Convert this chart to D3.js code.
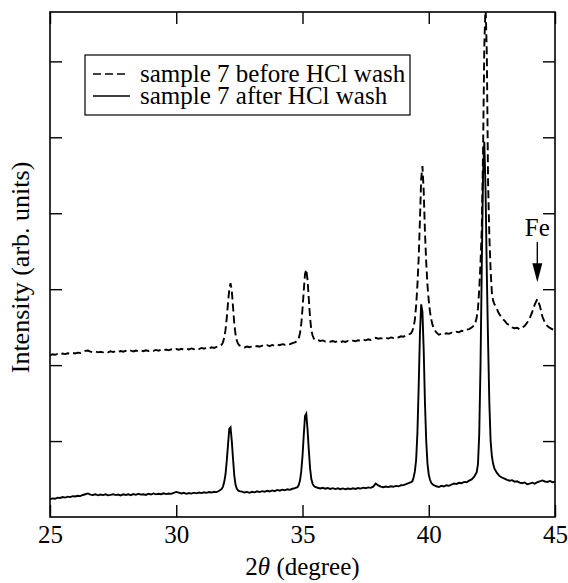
<!DOCTYPE html>
<html>
<head>
<meta charset="utf-8">
<script src="https://cdn.jsdelivr.net/npm/d3@7"></script>
<style>
body { margin: 0; background: #fff; }
svg text { font-family: "Liberation Serif", "Times New Roman", Times, "DejaVu Serif", serif; fill: #000; }
</style>
</head>
<body>
<div id="chart"></div>
<script>
// 2theta sampling positions (finer around the peaks)
var twoTheta = [
  25.0,25.1,25.2,25.3,25.4,25.5,25.6,25.7,25.8,25.9,26.0,26.1,26.2,26.3,26.4,26.5,26.6,26.7,26.8,26.9,
  27.0,27.1,27.2,27.3,27.4,27.5,27.6,27.7,27.8,27.9,28.0,28.1,28.2,28.3,28.4,28.5,28.6,28.7,28.8,28.9,
  29.0,29.1,29.2,29.3,29.4,29.5,29.6,29.7,29.8,29.9,30.0,30.1,30.2,30.3,30.4,30.5,30.6,30.7,30.8,30.9,
  31.0,31.1,31.2,31.3,31.4,31.5,31.6,31.7,31.8,
  31.85,31.9,31.95,32.0,32.05,32.1,32.15,32.2,32.25,32.3,32.35,32.4,32.45,32.5,
  32.6,32.7,32.8,32.9,33.0,33.1,33.2,33.3,33.4,33.5,33.6,33.7,33.8,33.9,34.0,34.1,34.2,34.3,34.4,34.5,34.6,34.7,34.8,
  34.85,34.9,34.95,35.0,35.05,35.1,35.15,35.2,35.25,35.3,35.35,35.4,35.45,35.5,
  35.6,35.7,35.8,35.9,36.0,36.1,36.2,36.3,36.4,36.5,36.6,36.7,36.8,36.9,37.0,37.1,37.2,37.3,37.4,37.5,
  37.6,37.7,37.8,37.9,38.0,38.1,38.2,38.3,38.4,38.5,38.6,38.7,38.8,38.9,39.0,39.1,39.2,39.3,
  39.35,39.4,39.45,39.5,39.55,39.6,39.65,39.7,39.75,39.8,39.85,39.9,39.95,40.0,40.05,40.1,40.15,40.2,
  40.3,40.4,40.5,40.6,40.7,40.8,40.9,41.0,41.1,41.2,41.3,41.4,41.5,41.6,41.7,41.8,
  41.85,41.9,41.95,42.0,42.05,42.1,42.15,42.2,42.25,42.3,42.35,42.4,42.45,42.5,42.55,42.6,42.65,42.7,42.75,42.8,
  42.9,43.0,43.1,43.2,43.3,43.4,43.5,43.6,43.7,43.8,43.9,44.0,44.1,44.2,44.3,44.4,44.5,44.6,44.7,44.8,44.9,45.0
];

// sample 7 after HCl wash (solid)
var afterWash = [
  235,245,240,255,250,262,255,268,262,275,270,280,275,290,300,310,295,290,300,285,
  295,288,298,285,292,300,288,296,284,298,290,300,288,302,292,305,295,300,290,306,
  296,310,298,305,300,312,302,310,305,318,330,320,310,318,305,315,308,320,312,322,
  315,325,318,328,322,332,328,345,370,
  400,460,560,740,950,1160,1180,1000,760,540,420,370,350,340,
  335,322,330,318,332,325,338,328,340,332,345,336,350,340,356,346,360,352,366,358,372,380,392,
  420,480,600,800,1080,1330,1360,1150,880,640,500,440,410,395,
  385,375,385,372,382,370,380,368,378,366,376,365,375,368,378,370,382,374,386,378,
  390,384,400,440,415,400,392,402,394,405,398,410,404,418,420,432,445,460,
  470,520,600,750,1100,1700,2400,2800,2700,2200,1500,1000,700,560,490,450,430,420,
  405,395,410,402,418,410,428,440,435,450,445,462,458,478,495,530,
  560,590,700,1100,2000,3300,4500,4940,4300,3200,2300,1500,1000,800,700,640,610,580,560,540,
  520,505,490,478,485,465,470,452,445,455,432,440,452,438,458,470,482,468,462,475,458,462
];

// sample 7 before HCl wash (dashed)
var beforeWash = [
  2130,2142,2136,2148,2140,2152,2145,2156,2150,2160,2154,2164,2160,2172,2188,2192,2178,2170,2180,2168,
  2176,2168,2180,2170,2182,2172,2184,2174,2186,2176,2188,2178,2190,2180,2192,2182,2194,2184,2196,2186,
  2198,2188,2200,2190,2202,2192,2205,2195,2208,2198,2212,2202,2214,2204,2216,2206,2220,2210,2222,2212,
  2226,2216,2230,2220,2234,2226,2240,2248,2270,
  2300,2360,2460,2620,2820,3000,3080,2980,2760,2540,2400,2320,2280,2260,
  2245,2232,2245,2235,2248,2238,2252,2242,2256,2246,2262,2250,2266,2255,2270,2262,2276,2268,2282,2275,2290,2300,2320,
  2350,2420,2540,2740,2980,3200,3260,3120,2870,2620,2460,2390,2350,2330,
  2330,2318,2325,2312,2320,2308,2318,2305,2315,2302,2314,2305,2318,2310,2322,2314,2328,2320,2334,2326,
  2340,2332,2346,2360,2348,2355,2345,2360,2350,2365,2358,2372,2365,2380,2375,2392,2400,2420,
  2450,2500,2600,2780,3050,3400,3900,4450,4620,4300,3750,3350,3050,2850,2700,2600,2530,2480,
  2430,2400,2415,2405,2420,2412,2428,2422,2440,2432,2452,2446,2466,2475,2495,2525,
  2560,2630,2750,3000,3350,3800,4800,6200,6750,6100,4400,3700,3250,2950,2850,2800,2780,2740,2700,2670,
  2620,2585,2545,2525,2498,2485,2492,2472,2490,2518,2560,2620,2700,2800,2870,2780,2640,2560,2515,2490,2472,2462
];

var xTicks = [25, 30, 35, 40, 45];
var yTicks = [1000, 2000, 3000, 4000, 5000, 6000];
var seriesNames = ["sample 7 before HCl wash", "sample 7 after HCl wash"];
var fePeak = 44.3;

var serif = '"Liberation Serif", "Times New Roman", Times, "DejaVu Serif", serif';

var margin = { top: 12, right: 13, bottom: 66, left: 50 },
    width = 568 - margin.left - margin.right,
    height = 583 - margin.top - margin.bottom;

var svg = d3.select("#chart")
    .append("svg")
    .attr("width", 568)
    .attr("height", 583)
    .attr("font-family", serif)
  .append("g")
    .attr("transform", "translate(" + margin.left + "," + margin.top + ")");

var x = d3.scaleLinear().domain([25, 45]).range([0, width]);
var y = d3.scaleLinear().domain([0, 6650]).range([height, 0]);

// clip the curves to the frame
svg.append("defs").append("clipPath")
    .attr("id", "clip")
  .append("rect")
    .attr("width", width)
    .attr("height", height);

// ticks on all four sides, pointing inward
var bottomAxis = svg.append("g")
    .attr("transform", "translate(0," + height + ")")
    .call(d3.axisBottom(x).tickValues(xTicks).tickSizeInner(-12).tickSizeOuter(0).tickPadding(8));
svg.append("g")
    .call(d3.axisTop(x).tickValues(xTicks).tickSizeInner(-12).tickSizeOuter(0).tickFormat(""));
svg.append("g")
    .call(d3.axisLeft(y).tickValues(yTicks).tickSizeInner(-12).tickSizeOuter(0).tickFormat(""));
svg.append("g")
    .attr("transform", "translate(" + width + ",0)")
    .call(d3.axisRight(y).tickValues(yTicks).tickSizeInner(-12).tickSizeOuter(0).tickFormat(""));

svg.selectAll(".domain").remove();
svg.selectAll(".tick line").attr("stroke", "#000").attr("stroke-width", 1.4);
bottomAxis.attr("font-family", serif).attr("font-size", 25);
bottomAxis.selectAll("text").attr("fill", "#000");

svg.append("rect")
    .attr("width", width)
    .attr("height", height)
    .attr("fill", "none")
    .attr("stroke", "#000")
    .attr("stroke-width", 1.6);

var line = function(values) {
  return d3.line()
      .x(function(d, i) { return x(twoTheta[i]); })
      .y(function(d) { return y(d); })(values);
};

var curves = svg.append("g").attr("clip-path", "url(#clip)");

curves.append("path")
    .attr("d", line(beforeWash))
    .attr("fill", "none")
    .attr("stroke", "#000")
    .attr("stroke-width", 1.9)
    .attr("stroke-dasharray", "8,4");

curves.append("path")
    .attr("d", line(afterWash))
    .attr("fill", "none")
    .attr("stroke", "#000")
    .attr("stroke-width", 1.9);

// Fe marker
var fx = x(fePeak);
svg.append("text")
    .attr("x", fx)
    .attr("y", y(3700))
    .attr("text-anchor", "middle")
    .attr("font-size", 25)
    .text("Fe");
svg.append("line")
    .attr("x1", fx).attr("x2", fx)
    .attr("y1", y(3620)).attr("y2", y(3300))
    .attr("stroke", "#000")
    .attr("stroke-width", 1.4);
svg.append("path")
    .attr("d", "M" + (fx - 5) + "," + y(3340) + "L" + (fx + 5) + "," + y(3340) + "L" + fx + "," + y(3090) + "Z")
    .attr("fill", "#000");

// legend
var legend = svg.append("g").attr("transform", "translate(35,43)");
legend.append("rect")
    .attr("width", 325)
    .attr("height", 60)
    .attr("fill", "#fff")
    .attr("stroke", "#000")
    .attr("stroke-width", 1.2);
legend.selectAll("line.key")
    .data(seriesNames)
    .enter().append("line")
    .attr("class", "key")
    .attr("x1", 8).attr("x2", function(d, i) { return i === 0 ? 40 : 45; })
    .attr("y1", function(d, i) { return 19 + i * 22; })
    .attr("y2", function(d, i) { return 19 + i * 22; })
    .attr("stroke", "#000")
    .attr("stroke-width", 1.4)
    .attr("stroke-dasharray", function(d, i) { return i === 0 ? "8,4" : null; });
legend.selectAll("text")
    .data(seriesNames)
    .enter().append("text")
    .attr("x", 55)
    .attr("y", function(d, i) { return 27 + i * 21.5; })
    .attr("font-size", 25)
    .text(function(d) { return d; });

// axis titles
var xTitle = svg.append("text")
    .attr("x", width / 2)
    .attr("y", height + 58)
    .attr("text-anchor", "middle")
    .attr("font-size", 25);
xTitle.append("tspan").text("2");
xTitle.append("tspan").style("font-style", "italic").text("\u03b8");
xTitle.append("tspan").text(" (degree)");

svg.append("text")
    .attr("transform", "translate(-21," + (height / 2 + 3) + ")rotate(-90)")
    .attr("text-anchor", "middle")
    .attr("font-size", 26)
    .text("Intensity (arb. units)");
</script>
</body>
</html>
